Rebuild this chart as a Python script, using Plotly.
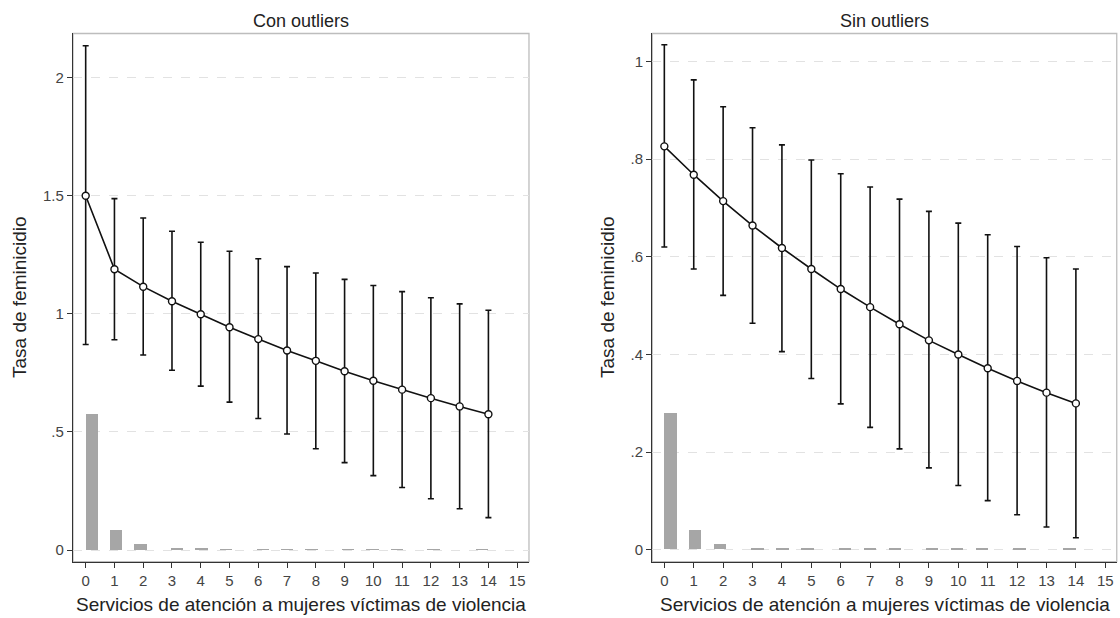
import plotly.graph_objects as go

# ---------------- data ----------------
servicios = list(range(15))
tick_vals = list(range(16))

# Con outliers
con_est = [1.500, 1.189, 1.115, 1.053, 0.998, 0.943, 0.893, 0.845, 0.801, 0.757,
           0.717, 0.679, 0.643, 0.608, 0.575]
con_hi = [2.135, 1.488, 1.406, 1.350, 1.303, 1.265, 1.233, 1.200, 1.173, 1.146,
          1.120, 1.094, 1.068, 1.042, 1.015]
con_lo = [0.870, 0.890, 0.826, 0.761, 0.694, 0.626, 0.557, 0.491, 0.429, 0.370,
          0.315, 0.265, 0.217, 0.175, 0.137]
con_hist = [0.575, 0.083, 0.024, 0.007, 0.004, 0.002, 0.002, 0.002, 0.002, 0.002,
            0.002, 0.002, 0.002, 0.0, 0.002]

# Sin outliers
sin_est = [0.826, 0.768, 0.714, 0.664, 0.618, 0.575, 0.534, 0.497, 0.462, 0.429,
           0.400, 0.372, 0.346, 0.322, 0.300]
sin_hi = [1.034, 0.962, 0.907, 0.864, 0.829, 0.798, 0.770, 0.743, 0.718, 0.693,
          0.669, 0.645, 0.621, 0.598, 0.575]
sin_lo = [0.620, 0.575, 0.521, 0.464, 0.406, 0.351, 0.299, 0.251, 0.207, 0.168,
          0.132, 0.101, 0.072, 0.047, 0.025]
sin_hist = [0.279, 0.040, 0.012, 0.0035, 0.002, 0.0012, 0.0012, 0.0012, 0.0012, 0.0012,
            0.0012, 0.0012, 0.0012, 0.0, 0.0012]

con_yticks = [0, 0.5, 1, 1.5, 2]
con_ytext = ["0", ".5", "1", "1.5", "2"]
sin_yticks = [0, 0.2, 0.4, 0.6, 0.8, 1]
sin_ytext = ["0", ".2", ".4", ".6", ".8", "1"]

titles = ["Con outliers", "Sin outliers"]
xtitle = "Servicios de atención a mujeres víctimas de violencia"
ytitle = "Tasa de feminicidio"

# histogram binning (33 bins over 0..14)
NBINS = 33
XMAX = 14
binw = XMAX / NBINS
bin_idx = [min(k * NBINS // XMAX, NBINS - 1) for k in servicios]
bin_ctr = [(i + 0.5) * binw for i in bin_idx]

FONT = "Liberation Sans, Arial, sans-serif"
TXT = "#333333"

fig = go.Figure()

panels = [
    dict(est=con_est, hi=con_hi, lo=con_lo, hist=con_hist, xa="x", ya="y"),
    dict(est=sin_est, hi=sin_hi, lo=sin_lo, hist=sin_hist, xa="x2", ya="y2"),
]
for p in panels:
    fig.add_trace(go.Bar(
        x=bin_ctr, y=p["hist"], width=binw, marker=dict(color="#a6a6a6", line=dict(width=0)),
        xaxis=p["xa"], yaxis=p["ya"], showlegend=False, hoverinfo="skip"))
    fig.add_trace(go.Scatter(
        x=servicios, y=p["est"], mode="lines+markers",
        line=dict(color="#111111", width=1.6),
        marker=dict(symbol="circle", size=7, color="white", line=dict(color="#111111", width=1.4)),
        error_y=dict(type="data", symmetric=False,
                     array=[h - e for h, e in zip(p["hi"], p["est"])],
                     arrayminus=[e - l for e, l in zip(p["est"], p["lo"])],
                     color="#111111", thickness=1.6, width=3),
        xaxis=p["xa"], yaxis=p["ya"], showlegend=False))

xcommon = dict(tickmode="array", tickvals=tick_vals, ticktext=[str(v) for v in tick_vals],
               ticks="outside", ticklen=5, tickwidth=1.2, tickcolor="#333333",
               showline=True, linecolor="#333333", linewidth=1.3, showgrid=False,
               zeroline=False, tickfont=dict(family=FONT, size=15, color="#444444"))
ycommon = dict(ticks="outside", ticklen=5, tickwidth=1.2, tickcolor="#333333",
               showline=True, linecolor="#333333", linewidth=1.3,
               showgrid=True, gridcolor="#e2e2e2", gridwidth=1, griddash="dash",
               zeroline=False, tickfont=dict(family=FONT, size=15, color="#444444"))

fig.update_layout(
    width=1120, height=618,
    margin=dict(l=0, r=0, t=0, b=0),
    paper_bgcolor="white", plot_bgcolor="white",
    bargap=0, barmode="overlay",
    font=dict(family=FONT, color=TXT),
    xaxis=dict(domain=[0.0652, 0.4723], range=[-0.44, 15.41], anchor="y", **xcommon),
    yaxis=dict(domain=[0.0911, 0.9458], range=[-0.0495, 2.187], anchor="x",
               tickmode="array", tickvals=con_yticks, ticktext=con_ytext, **ycommon),
    xaxis2=dict(domain=[0.5824, 0.9971], range=[-0.41, 15.39], anchor="y2", **xcommon),
    yaxis2=dict(domain=[0.0911, 0.9458], range=[-0.024, 1.057], anchor="x2",
                tickmode="array", tickvals=sin_yticks, ticktext=sin_ytext, **ycommon),
)

# light frame (top/right)
for xr, yr in [("x domain", "y domain"), ("x2 domain", "y2 domain")]:
    fig.add_shape(type="rect", xref=xr, yref=yr, x0=0, x1=1, y0=0, y1=1,
                  line=dict(color="#bdbdbd", width=1.3), layer="below")

# titles
centers = [(0.0652 + 0.4723) / 2, (0.5824 + 0.9971) / 2]
ylabx = [19 / 1120, 607 / 1120]
for i in range(2):
    fig.add_annotation(text=titles[i], x=centers[i], y=1 - 21 / 618, xref="paper", yref="paper",
                       showarrow=False, font=dict(family=FONT, size=18, color="#222222"),
                       xanchor="center", yanchor="middle")
    fig.add_annotation(text=xtitle, x=centers[i], y=1 - 604 / 618, xref="paper", yref="paper",
                       showarrow=False, font=dict(family=FONT, size=19, color="#222222"),
                       xanchor="center", yanchor="middle")
    fig.add_annotation(text=ytitle, x=ylabx[i], y=1 - 297 / 618, xref="paper", yref="paper",
                       showarrow=False, textangle=-90, font=dict(family=FONT, size=19, color="#222222"),
                       xanchor="center", yanchor="middle")

fig.write_html("out.html", config={"displayModeBar": False},
               post_script="document.body.style.margin='0';document.body.style.overflow='hidden';")
